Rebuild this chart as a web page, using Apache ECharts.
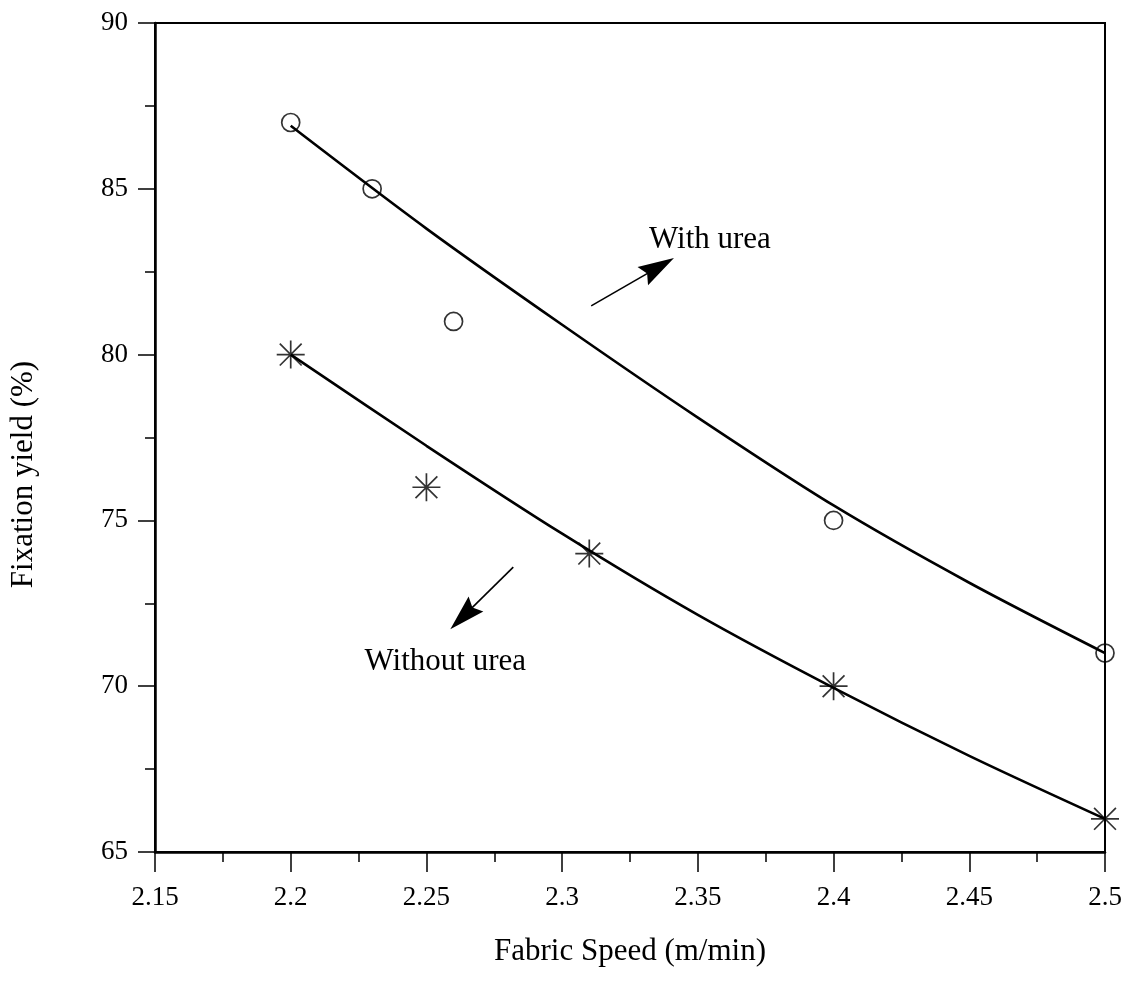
<!DOCTYPE html>
<html>
<head>
<meta charset="utf-8">
<script src="https://cdn.jsdelivr.net/npm/echarts@6/dist/echarts.min.js"></script>
<style>
  html, body { margin: 0; padding: 0; background: #fff; }
  #main { width: 1129px; height: 999px; }
</style>
</head>
<body>
<div id="main"></div>
<script>
// Measured points: fixation yield (%) against fabric speed (m/min)
const speedWithUrea = [2.2, 2.23, 2.26, 2.4, 2.5];
const yieldWithUrea = [87, 85, 81, 75, 71];
const speedWithoutUrea = [2.2, 2.25, 2.31, 2.4, 2.5];
const yieldWithoutUrea = [80, 76, 74, 70, 66];

// Trend curves drawn through the measurements
const curveSpeedWithUrea = [2.2, 2.25, 2.3, 2.35, 2.4, 2.45, 2.5];
const curveYieldWithUrea = [86.9, 83.8, 80.9, 78.1, 75.45, 73.12, 71.0];
const curveSpeedWithoutUrea = [2.2, 2.25, 2.3, 2.35, 2.4, 2.45, 2.5];
const curveYieldWithoutUrea = [80.0, 77.25, 74.6, 72.15, 69.95, 67.9, 66.0];

// Axis ranges and tick steps
const xRange = [2.15, 2.5];
const xStep = 0.05;
const yRange = [65, 90];
const yStep = 5;

// Annotation texts
const labelWith = 'With urea';
const labelWithout = 'Without urea';

const pairs = (xs, ys) => xs.map((x, i) => [x, ys[i]]);

const FONT = '"Liberation Serif", "Times New Roman", serif';
const asterisk = 'path://M0,-1L0,1M-1,0L1,0M-0.78,-0.78L0.78,0.78M-0.78,0.78L0.78,-0.78';

const chart = echarts.init(document.getElementById('main'));

const axisCommon = {
  type: 'value',
  splitLine: { show: false },
  axisLine: { show: true, onZero: false, lineStyle: { color: '#000', width: 2.5 } },
  axisTick: { show: true, inside: false, lineStyle: { color: '#000', width: 1.5 } },
  minorTick: { show: true, splitNumber: 2, length: 10, lineStyle: { color: '#000', width: 1.5 } },
  axisLabel: { color: '#000', fontFamily: FONT, fontSize: 27 },
  nameLocation: 'middle',
  nameTextStyle: { color: '#000', fontFamily: FONT, fontSize: 31 }
};

const option = {
  animation: false,
  backgroundColor: '#fff',
  grid: {
    left: 153, right: 24, top: 23, bottom: 147,
    show: true, borderColor: '#000', borderWidth: 2, backgroundColor: 'transparent'
  },
  xAxis: Object.assign({}, axisCommon, {
    min: xRange[0], max: xRange[1], interval: xStep,
    name: 'Fabric Speed (m/min)', nameGap: 84,
    axisTick: Object.assign({}, axisCommon.axisTick, { length: 20 }),
    axisLabel: Object.assign({}, axisCommon.axisLabel, { margin: 32 })
  }),
  yAxis: Object.assign({}, axisCommon, {
    min: yRange[0], max: yRange[1], interval: yStep,
    name: 'Fixation yield (%)', nameGap: 116,
    nameTextStyle: Object.assign({}, axisCommon.nameTextStyle, { padding: [0, 74, 0, 0] }),
    axisTick: Object.assign({}, axisCommon.axisTick, { length: 17 }),
    axisLabel: Object.assign({}, axisCommon.axisLabel, { margin: 27 })
  }),
  series: [
    {
      name: 'With urea curve', type: 'line', smooth: 0.3, showSymbol: false,
      data: pairs(curveSpeedWithUrea, curveYieldWithUrea),
      lineStyle: { color: '#000', width: 2.6 }, silent: true
    },
    {
      name: 'Without urea curve', type: 'line', smooth: 0.3, showSymbol: false,
      data: pairs(curveSpeedWithoutUrea, curveYieldWithoutUrea),
      lineStyle: { color: '#000', width: 2.6 }, silent: true
    },
    {
      name: 'With urea', type: 'scatter', symbol: 'circle', symbolSize: 18, clip: false,
      data: pairs(speedWithUrea, yieldWithUrea),
      itemStyle: { color: 'rgba(0,0,0,0)', borderColor: '#000', borderWidth: 1.7 }
    },
    {
      name: 'Without urea', type: 'scatter', symbol: asterisk, symbolSize: 28, clip: false,
      data: pairs(speedWithoutUrea, yieldWithoutUrea),
      itemStyle: { color: 'rgba(0,0,0,0)', borderColor: '#000', borderWidth: 1.7 }
    }
  ]
};

chart.setOption(option);

// Arrow annotations pointing away from the two curves, placed in data coordinates
const arrows = [
  { from: [2.3107, 81.47], to: [2.3412, 82.91] },
  { from: [2.282, 73.59], to: [2.2588, 71.72] }
];
const texts = [
  { at: [2.332, 83.46], text: labelWith },
  { at: [2.2272, 70.73], text: labelWithout }
];

const toPx = p => chart.convertToPixel({ gridIndex: 0 }, p);
const graphics = [];
arrows.forEach(a => {
  const p0 = toPx(a.from), p1 = toPx(a.to);
  const dx = p1[0] - p0[0], dy = p1[1] - p0[1];
  const len = Math.hypot(dx, dy);
  const ux = dx / len, uy = dy / len;
  const headLen = 36, headHalf = 10.5;
  const bx = p1[0] - ux * headLen, by = p1[1] - uy * headLen;
  graphics.push({
    type: 'line', silent: true,
    shape: { x1: p0[0], y1: p0[1], x2: bx + ux * 6, y2: by + uy * 6 },
    style: { stroke: '#000', lineWidth: 1.6 }
  });
  graphics.push({
    type: 'polygon', silent: true,
    shape: { points: [
      [p1[0], p1[1]],
      [bx - uy * headHalf, by + ux * headHalf],
      [bx + ux * 5, by + uy * 5],
      [bx + uy * headHalf, by - ux * headHalf]
    ] },
    style: { fill: '#000' }
  });
});
texts.forEach(t => {
  const p = toPx(t.at);
  graphics.push({
    type: 'text', silent: true, x: p[0], y: p[1],
    style: { text: t.text, fill: '#000', font: '31px ' + FONT, textAlign: 'left', textVerticalAlign: 'middle' }
  });
});
chart.setOption({ graphic: graphics });
</script>
</body>
</html>
